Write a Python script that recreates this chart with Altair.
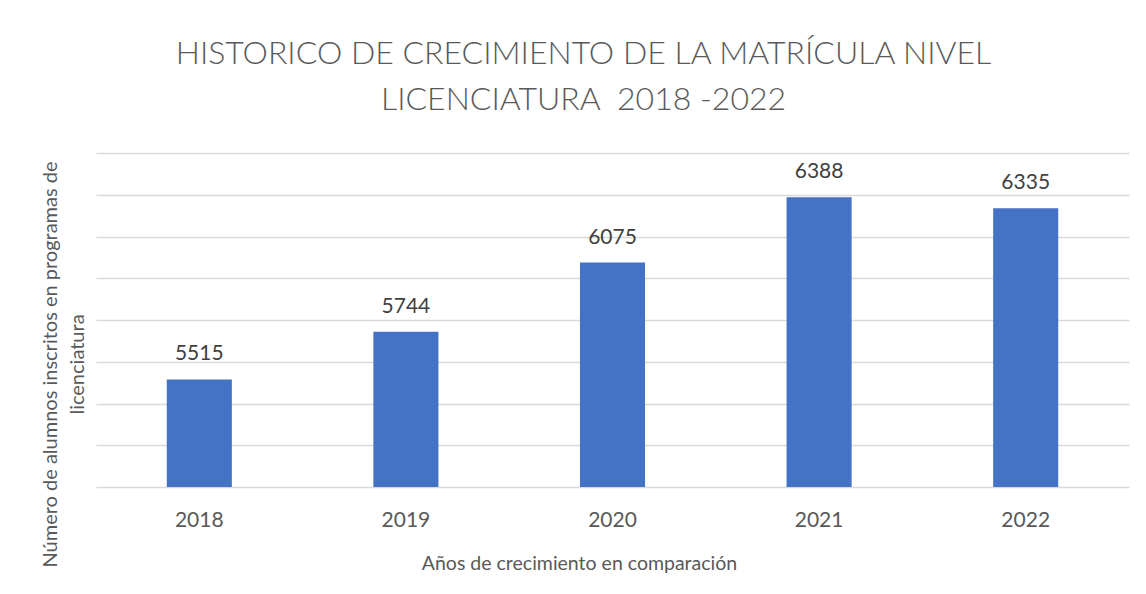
import altair as alt
import pandas as pd

years = ["2018", "2019", "2020", "2021", "2022"]
alumnos = [5515, 5744, 6075, 6388, 6335]

df = pd.DataFrame({"anio": years, "alumnos": alumnos})

FONT = "Lato"
GRAY = "#595959"

base = alt.Chart(df).encode(
    x=alt.X(
        "anio:N",
        sort=years,
        scale=alt.Scale(paddingInner=0.685, paddingOuter=0.3425),
        axis=alt.Axis(
            title="Años de crecimiento en comparación",
            labelAngle=0,
            labelFontSize=21,
            labelColor=GRAY,
            labelFont=FONT,
            labelPadding=22,
            domain=False,
            ticks=False,
            grid=False,
            titleFontSize=19.5,
            titleFont=FONT,
            titleFontWeight="normal",
            titleColor=GRAY,
            titleX=483,
            titleY=82,
            titleBaseline="alphabetic",
            titleAlign="center",
        ),
    ),
    y=alt.Y(
        "alumnos:Q",
        scale=alt.Scale(domain=[5000, 6600], nice=False, zero=False),
        axis=alt.Axis(
            title=["Número de alumnos inscritos en programas de", "licenciatura"],
            values=[5000, 5200, 5400, 5600, 5800, 6000, 6200, 6400, 6600],
            labels=False,
            ticks=False,
            domain=False,
            grid=True,
            gridColor="#d9d9d9",
            gridWidth=1.3,
            titleFontSize=20,
            titleFont=FONT,
            titleFontWeight="normal",
            titleColor=GRAY,
            titleLineHeight=27,
            titleAngle=270,
            titleBaseline="bottom",
            titleAlign="center",
            titleX=-36,
            titleY=211,
        ),
    ),
)

bars = base.mark_bar(color="#4472C4", clip=True)
labels = base.mark_text(
    baseline="alphabetic", dy=-19, fontSize=21, font=FONT, color="#404040"
).encode(text="alumnos:Q")

chart = (
    alt.layer(bars, labels)
    .properties(
        width=1033,
        height=334,
        title=alt.TitleParams(
            text=["HISTORICO DE CRECIMIENTO DE LA MATRÍCULA NIVEL", "LICENCIATURA\u00a0 2018 -2022"],
            fontSize=32,
            font=FONT,
            fontWeight=300,
            color=GRAY,
            lineHeight=46,
            anchor="middle",
            baseline="bottom",
            offset=4,
            dx=-29,
        ),
        autosize=alt.AutoSizeParams(type="none"),
        padding={"left": 88, "top": 145, "right": 9, "bottom": 99},
    )
    .configure(background="white", view=alt.ViewConfig(stroke=None))
)

chart.save("out.html", embed_options={"renderer": "svg", "actions": False})
